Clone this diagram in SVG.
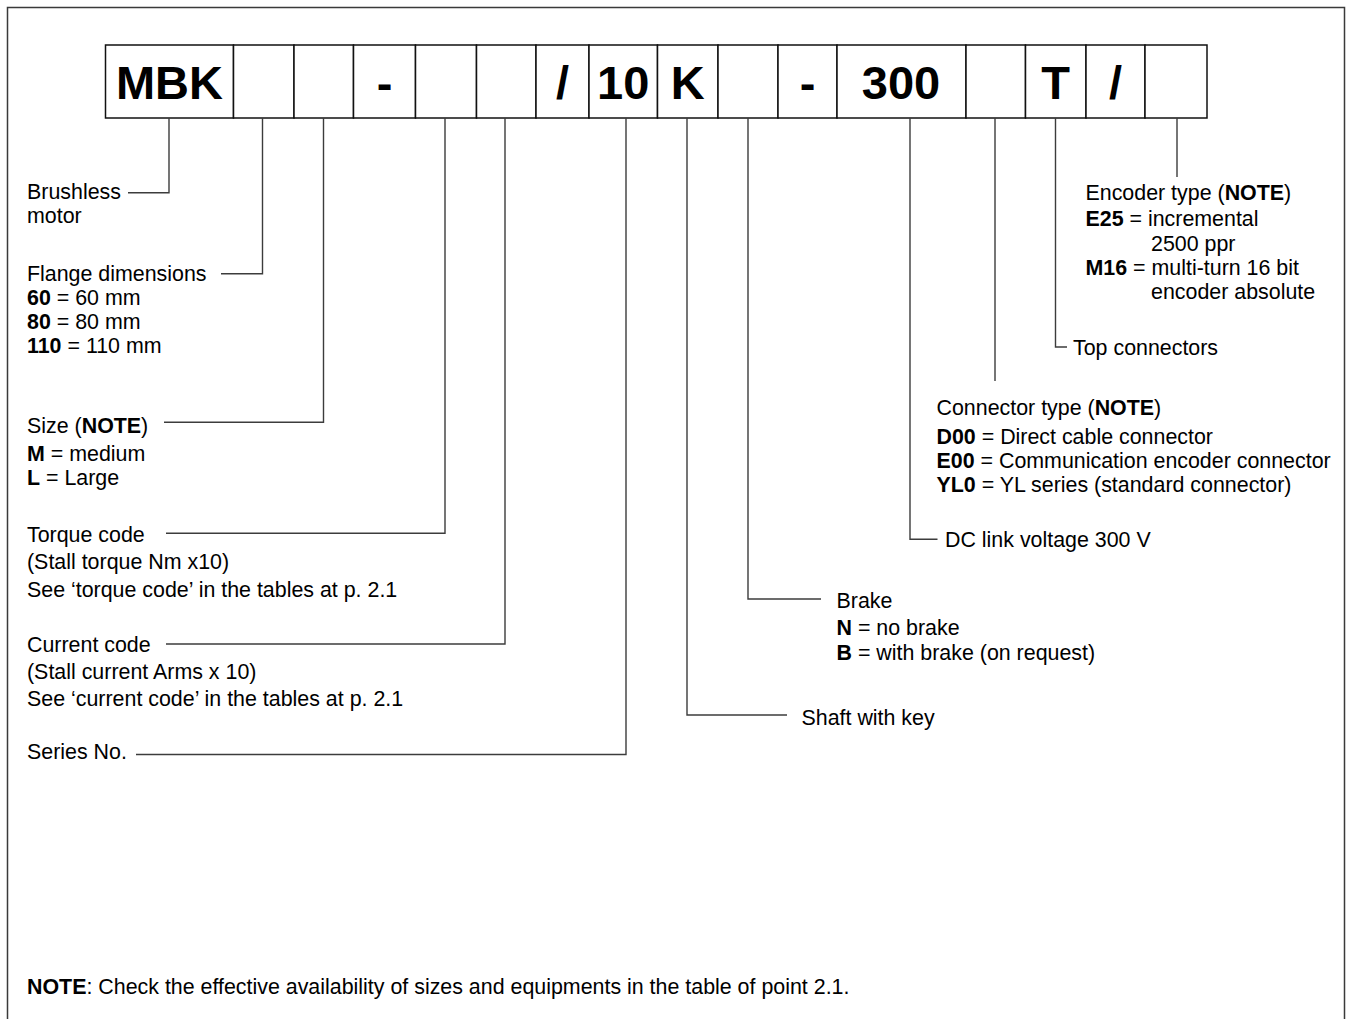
<svg xmlns="http://www.w3.org/2000/svg" width="1351" height="1019" viewBox="0 0 1351 1019">
<style>
.frame{fill:none;stroke:#3a3a3a;stroke-width:1.5}
.cell{fill:#fff;stroke:#111;stroke-width:1.5}
.code{font-family:"Liberation Sans",Arial,sans-serif;font-size:47px;font-weight:bold;text-anchor:middle;fill:#000}
.lbl{font-family:"Liberation Sans",Arial,sans-serif;font-size:21.4px;fill:#000}
.b{font-weight:bold}
.con{fill:none;stroke:#3c3c3c;stroke-width:1.4}
</style>
<rect x="0" y="0" width="1351" height="1019" fill="#fff"/>
<path class="frame" d="M7.5,1019 V7.5 H1344.5 V1019"/>

<g id="code">
<g id="c-mbk"><rect class="cell" x="105.5" y="45" width="128" height="73"/><text class="code" x="169.5" y="99.3">MBK</text></g>
<g id="c-flange"><rect class="cell" x="233.5" y="45" width="60.5" height="73"/></g>
<g id="c-size"><rect class="cell" x="294" y="45" width="59.5" height="73"/></g>
<g id="c-dash1"><rect class="cell" x="353.5" y="45" width="62" height="73"/><text class="code" x="384.5" y="99.3">-</text></g>
<g id="c-torque"><rect class="cell" x="415.5" y="45" width="61" height="73"/></g>
<g id="c-current"><rect class="cell" x="476.5" y="45" width="59.5" height="73"/></g>
<g id="c-slash1"><rect class="cell" x="536" y="45" width="53" height="73"/><text class="code" x="562.5" y="99.3">/</text></g>
<g id="c-series"><rect class="cell" x="589" y="45" width="68.5" height="73"/><text class="code" x="623.2" y="99.3">10</text></g>
<g id="c-shaft"><rect class="cell" x="657.5" y="45" width="60.5" height="73"/><text class="code" x="687.8" y="99.3">K</text></g>
<g id="c-brake"><rect class="cell" x="718" y="45" width="60" height="73"/></g>
<g id="c-dash2"><rect class="cell" x="778" y="45" width="59" height="73"/><text class="code" x="807.5" y="99.3">-</text></g>
<g id="c-voltage"><rect class="cell" x="837" y="45" width="129" height="73"/><text class="code" x="901" y="99.3">300</text></g>
<g id="c-conn"><rect class="cell" x="966" y="45" width="59.5" height="73"/></g>
<g id="c-top"><rect class="cell" x="1025.5" y="45" width="60.5" height="73"/><text class="code" x="1055.7" y="99.3">T</text></g>
<g id="c-slash2"><rect class="cell" x="1086" y="45" width="59" height="73"/><text class="code" x="1115.5" y="99.3">/</text></g>
<g id="c-encoder"><rect class="cell" x="1145" y="45" width="62" height="73"/></g>
</g>

<g id="connectors">
<path class="con" d="M169,118 V192.7 H128"/>
<path class="con" d="M262.5,118 V273.7 H221"/>
<path class="con" d="M323.5,118 V422.3 H164"/>
<path class="con" d="M445,118 V533.3 H166"/>
<path class="con" d="M505,118 V644 H166"/>
<path class="con" d="M626,118 V754.5 H136"/>
<path class="con" d="M687,118 V715 H787"/>
<path class="con" d="M748,118 V599 H821"/>
<path class="con" d="M910,118 V539.3 H937.5"/>
<path class="con" d="M995,118 V381"/>
<path class="con" d="M1055.5,118 V347 H1067"/>
<path class="con" d="M1177,118 V177"/>
</g>

<g id="l-brushless">
<text class="lbl" x="27" y="198.5">Brushless</text>
<text class="lbl" x="27" y="222.8">motor</text>
</g>
<g id="l-flange">
<text class="lbl" x="27" y="280.5">Flange dimensions</text>
<text class="lbl" x="27" y="304.5"><tspan class="b">60</tspan> = 60 mm</text>
<text class="lbl" x="27" y="328.5"><tspan class="b">80</tspan> = 80 mm</text>
<text class="lbl" x="27" y="352.5"><tspan class="b">110</tspan> = 110 mm</text>
</g>
<g id="l-size">
<text class="lbl" x="27" y="433">Size (<tspan class="b">NOTE</tspan>)</text>
<text class="lbl" x="27" y="460.5"><tspan class="b">M</tspan> = medium</text>
<text class="lbl" x="27" y="485"><tspan class="b">L</tspan> = Large</text>
</g>
<g id="l-torque">
<text class="lbl" x="27" y="541.5">Torque code</text>
<text class="lbl" x="27" y="568.5">(Stall torque Nm x10)</text>
<text class="lbl" x="27" y="596.5">See ‘torque code’ in the tables at p. 2.1</text>
</g>
<g id="l-current">
<text class="lbl" x="27" y="651.5">Current code</text>
<text class="lbl" x="27" y="678.5">(Stall current Arms x 10)</text>
<text class="lbl" x="27" y="705.5">See ‘current code’ in the tables at p. 2.1</text>
</g>
<g id="l-series">
<text class="lbl" x="27" y="759">Series No.</text>
</g>
<g id="l-shaft">
<text class="lbl" x="801.5" y="724.5">Shaft with key</text>
</g>
<g id="l-brake">
<text class="lbl" x="836.5" y="607.5">Brake</text>
<text class="lbl" x="836.5" y="635"><tspan class="b">N</tspan> = no brake</text>
<text class="lbl" x="836.5" y="659.5"><tspan class="b">B</tspan> = with brake (on request)</text>
</g>
<g id="l-voltage">
<text class="lbl" x="945" y="547">DC link voltage 300 V</text>
</g>
<g id="l-conn">
<text class="lbl" x="936.5" y="415">Connector type (<tspan class="b">NOTE</tspan>)</text>
<text class="lbl" x="936.5" y="443.5"><tspan class="b">D00</tspan> = Direct cable connector</text>
<text class="lbl" x="936.5" y="467.5"><tspan class="b">E00</tspan> = Communication encoder connector</text>
<text class="lbl" x="936.5" y="492"><tspan class="b">YL0</tspan> = YL series (standard connector)</text>
</g>
<g id="l-top">
<text class="lbl" x="1073" y="354.5">Top connectors</text>
</g>
<g id="l-encoder">
<text class="lbl" x="1085.5" y="200">Encoder type (<tspan class="b">NOTE</tspan>)</text>
<text class="lbl" x="1085.5" y="226"><tspan class="b">E25</tspan> = incremental</text>
<text class="lbl" x="1151" y="250.5">2500 ppr</text>
<text class="lbl" x="1085.5" y="274.5"><tspan class="b">M16</tspan> = multi-turn 16 bit</text>
<text class="lbl" x="1151" y="298.5">encoder absolute</text>
</g>
<g id="note">
<text class="lbl" x="27" y="994"><tspan class="b">NOTE</tspan>: Check the effective availability of sizes and equipments in the table of point 2.1.</text>
</g>
</svg>
